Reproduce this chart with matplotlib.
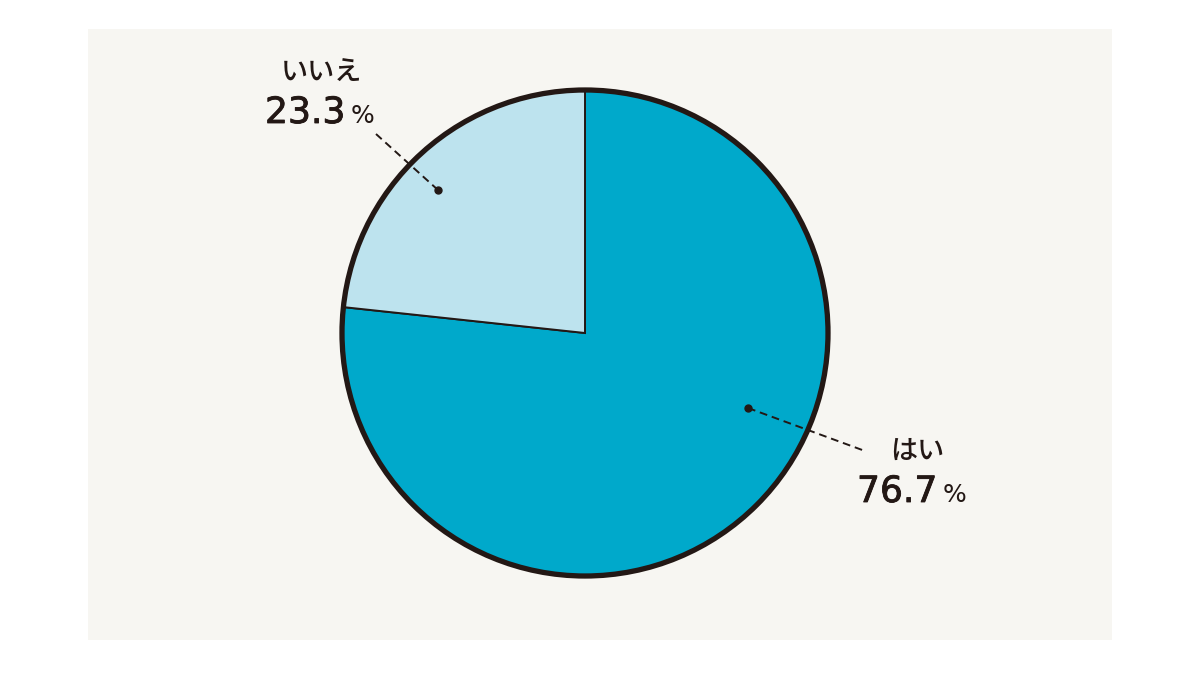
import matplotlib
matplotlib.use("Agg")
import matplotlib.pyplot as plt
from matplotlib.patches import Rectangle, Circle
import matplotlib.patheffects as pe

# Data
categories = ["はい", "いいえ"]
values = [76.7, 23.3]
value_labels = ["76.7", "23.3"]
colors = ["#00A9CB", "#BDE3EE"]

W, H = 1200, 675
fig = plt.figure(figsize=(12, 6.75), dpi=100)
fig.patch.set_facecolor("white")
ax = fig.add_axes([0, 0, 1, 1])
ax.set_xlim(0, W)
ax.set_ylim(H, 0)
ax.set_aspect("equal")
ax.axis("off")

# Background panel
ax.add_patch(Rectangle((88, 29), 1024, 611, facecolor="#F7F6F2", edgecolor="none", zorder=0))

cx, cy, R = 585, 333, 243
wedges, _ = ax.pie(values, colors=colors, startangle=-90, counterclock=True,
                   center=(cx, cy), radius=R,
                   wedgeprops=dict(edgecolor="#231815", linewidth=1.4), frame=True)
ax.set_xlim(0, W)
ax.set_ylim(H, 0)
ax.axis("off")
ax.add_patch(Circle((cx, cy), R, facecolor="none", edgecolor="#231815", linewidth=3.8, zorder=5))

txt = "#231815"
jp = ["Noto Sans CJK JP", "DejaVu Sans"]
num = ["DejaVu Sans"]
thick = [pe.withStroke(linewidth=0.6, foreground=txt)]

# Leader lines
leaders = {
    "いいえ": ((438, 190), (376, 134)),
    "はい": ((748, 408), (865, 451)),
}
for cat, (p0, p1) in leaders.items():
    ax.plot([p0[0], p1[0]], [p0[1], p1[1]], color=txt, lw=1.4, ls=(0, (4, 2.5)), zorder=6)
    ax.plot([p0[0]], [p0[1]], "o", color=txt, ms=5, zorder=7)

# Labels
label_pos = {
    "いいえ": dict(cat=(321, 73), num=(265, 123)),
    "はい": dict(cat=(917, 451), num=(857, 502)),
}
num_texts = []
for cat, vl in zip(categories, value_labels):
    lp = label_pos[cat]
    ax.text(*lp["cat"], cat, family=jp, fontsize=19.5, color=txt, ha="center", va="center",
            fontweight="medium", zorder=8)
    t = ax.text(*lp["num"], vl, family=num, fontsize=26, color=txt, ha="left", va="baseline",
                zorder=8, path_effects=thick)
    num_texts.append((t, lp["num"]))

fig.canvas.draw()
renderer = fig.canvas.get_renderer()
inv = ax.transData.inverted()
for t, (x0, y0) in num_texts:
    bb = t.get_window_extent(renderer)
    xr, _ = inv.transform((bb.x1, bb.y0))
    ax.text(xr + 5, y0, "%", family=num, fontsize=18, color=txt, ha="left", va="baseline", zorder=8)

fig.savefig("out.png", dpi=100, facecolor="white")
